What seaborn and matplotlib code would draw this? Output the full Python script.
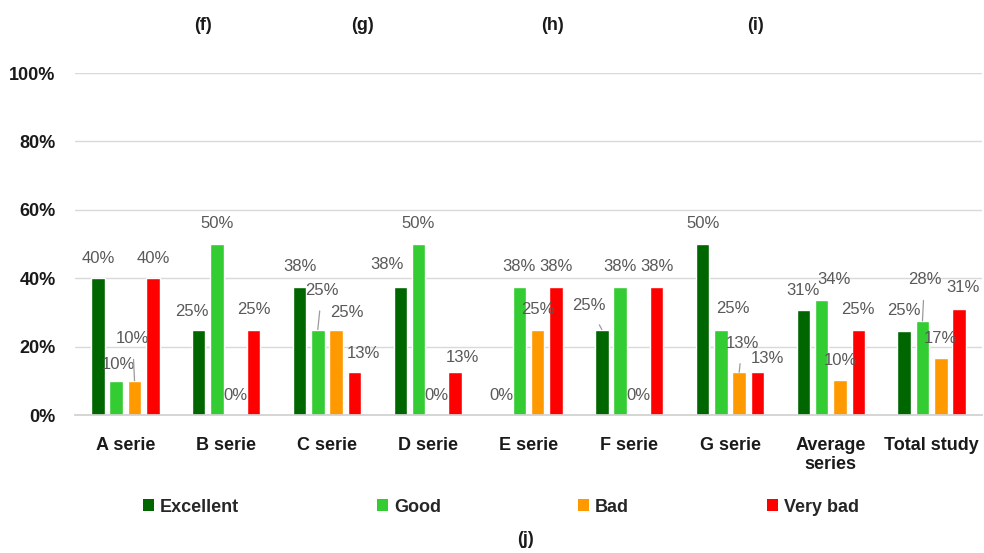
import numpy as np
import pandas as pd
import matplotlib
matplotlib.use("Agg")
import matplotlib.pyplot as plt
from matplotlib.patches import Patch
import seaborn as sns

categories = ["A serie", "B serie", "C serie", "D serie", "E serie", "F serie",
              "G serie", "Average\nseries", "Total study"]
series = ["Excellent", "Good", "Bad", "Very bad"]
excellent = [40, 25, 37.5, 37.5, 0, 25, 50, 30.7, 24.6]
good = [10, 50, 25, 50, 37.5, 37.5, 25, 33.6, 27.5]
bad = [10, 0, 25, 0, 25, 0, 12.5, 10.1, 16.6]
very_bad = [40, 25, 12.5, 12.5, 37.5, 37.5, 12.5, 25, 31]
y_ticks = [0, 20, 40, 60, 80, 100]
panel_labels = ["(f)", "(g)", "(h)", "(i)"]
bottom_label = "(j)"

colors = ["#006600", "#33cc33", "#ff9900", "#ff0000"]

sns.set_theme(style="white")
plt.rcParams["font.family"] = ["Liberation Sans", "DejaVu Sans"]

rows = []
for s, vals in zip(series, [excellent, good, bad, very_bad]):
    for c, v in zip(categories, vals):
        rows.append({"category": c, "series": s, "value": v / 100.0})
df = pd.DataFrame(rows)

fig = plt.figure(figsize=(9.84, 5.53), dpi=100)
ax = fig.add_axes([75 / 984, 1 - 415 / 553, 907 / 984, (415 - 73) / 553])

sns.barplot(data=df, x="category", y="value", hue="series", order=categories,
            hue_order=series, palette=colors, width=0.726, gap=0.26,
            legend=False, ax=ax, errorbar=None, saturation=1)

ax.set_xlim(-0.5, len(categories) - 0.5)
ax.set_ylim(0, 1)
ax.set_yticks([t / 100 for t in y_ticks])
ax.set_yticklabels([f"{t}%" for t in y_ticks], fontsize=13, fontweight="bold", color="#1a1a1a")
ax.set_xticks(range(len(categories)))
ax.set_xticklabels(categories, fontsize=13, fontweight="bold", color="#1a1a1a",
                   linespacing=1.1)
ax.tick_params(axis="y", length=0, pad=14)
ax.tick_params(axis="x", length=0, pad=16)
ax.set_xlabel("")
ax.set_ylabel("")
ax.yaxis.grid(True, color="#d9d9d9", lw=1)
ax.set_axisbelow(True)
for sp in ["top", "right", "left"]:
    ax.spines[sp].set_visible(False)
ax.spines["bottom"].set_color("#d0d0d0")

# label placement tweaks (pixels): (series index, category index) -> (dx, dy, leader)
label_tweaks = {
    (1, 0): (2, 16, False), (2, 0): (-2, 42, True),
    (0, 1): (-7, 18, False),
    (1, 2): (4, 39, True), (2, 2): (11, 17, False), (3, 2): (9, 19, False),
    (0, 3): (-13, 22, False), (3, 3): (7, 15, False),
    (0, 5): (-13, 24, True),
    (1, 6): (12, 21, False), (2, 6): (3, 29, True), (3, 6): (10, 14, False),
    (1, 7): (12, 21, False),
    (1, 8): (2, 41, True), (3, 8): (4, 21, False),
}

vals_all = [excellent, good, bad, very_bad]
for si, cont in enumerate(ax.containers):
    for ci, bar in enumerate(cont):
        v = vals_all[si][ci]
        x = bar.get_x() + bar.get_width() / 2
        top = bar.get_height()
        dx, dy, leader = label_tweaks.get((si, ci), (0, 20, False))
        kw = {}
        if leader:
            kw["arrowprops"] = dict(arrowstyle="-", color="#9a9a9a", lw=0.9,
                                    shrinkA=7, shrinkB=0)
        ax.annotate(f"{int(v + 0.5)}%", xy=(x, top), xytext=(dx, dy),
                    textcoords="offset pixels", ha="center", va="center",
                    fontsize=12, color="#595959", annotation_clip=False, **kw)

for s, c, xp in zip(series, colors, [143, 377, 578, 767]):
    fig.legend([Patch(facecolor=c, edgecolor="none")], [s], loc="center left",
               bbox_to_anchor=(xp / 984, 1 - 507 / 553), frameon=False,
               handlelength=0.6, handleheight=0.6, handletextpad=0.35,
               borderpad=0, borderaxespad=0,
               prop={"weight": "bold", "size": 13})

for lbl, xp in zip(panel_labels, [203, 362, 553, 755]):
    fig.text(xp / 984, 1 - 25 / 553, lbl, ha="center", va="center",
             fontsize=13, fontweight="bold", color="#1a1a1a")
fig.text(526 / 984, 1 - 539 / 553, bottom_label, ha="center", va="center",
         fontsize=13, fontweight="bold", color="#1a1a1a")

fig.savefig("out.png", dpi=100, facecolor="white")
